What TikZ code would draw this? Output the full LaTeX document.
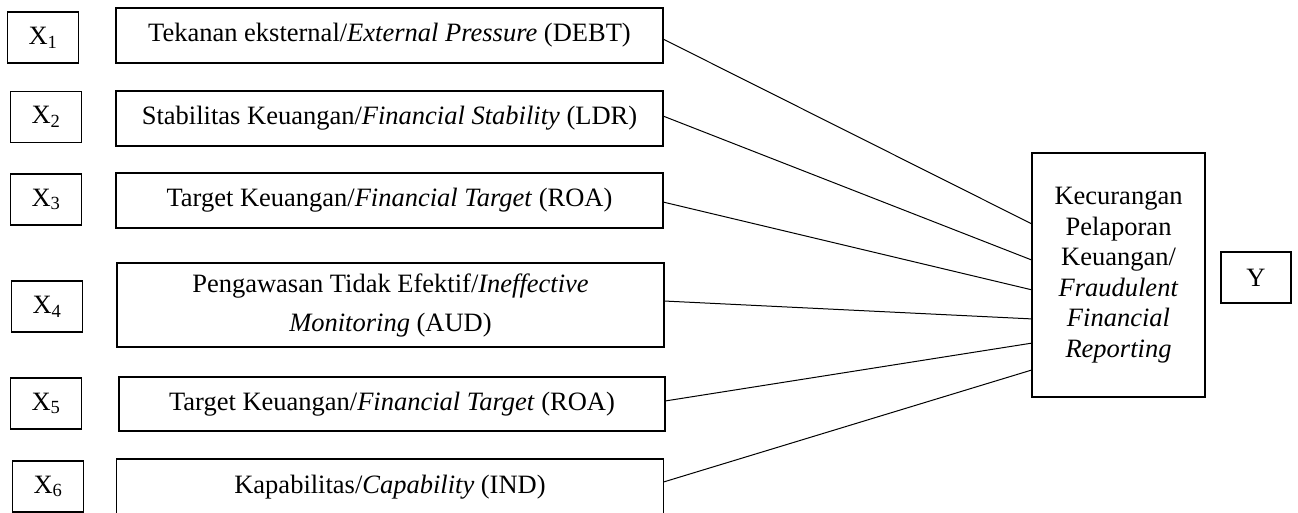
\documentclass[tikz,border=0pt]{standalone}
\usepackage{fontspec}
\setmainfont{Liberation Serif}
\usetikzlibrary{calc}
\begin{document}
\begin{tikzpicture}[
  x=1pt,y=1pt,
  font=\fontsize{26.5}{31}\selectfont,
  xbox/.style={draw,line width=1.8pt,inner sep=0pt,outer sep=0pt,minimum width=71pt,minimum height=51pt},
  bigbox/.style={draw,line width=1.8pt,inner sep=0pt,outer sep=0pt,minimum width=547pt,minimum height=55pt,align=center},
  conn/.style={line width=1pt}
]
\useasboundingbox (0,0) rectangle (1298,-512);
% left variable boxes
\node[xbox] (x1) at (43,-37.5) {X\textsubscript{1}};
\node[xbox] (x2) at (46,-117) {X\textsubscript{2}};
\node[xbox] (x3) at (46,-199.5) {X\textsubscript{3}};
\node[xbox] (x4) at (47,-306.5) {X\textsubscript{4}};
\node[xbox] (x5) at (46,-403.5) {X\textsubscript{5}};
\node[xbox] (x6) at (48,-486.5) {X\textsubscript{6}};
% main boxes
\node[bigbox] (b1) at (389.5,-35.5) {Tekanan eksternal/\textit{External Pressure} (DEBT)};
\node[bigbox] (b2) at (389.5,-118.5) {Stabilitas Keuangan/\textit{Financial Stability} (LDR)};
\node[bigbox] (b3) at (389.5,-200.5) {Target Keuangan/\textit{Financial Target} (ROA)};
\node[bigbox,minimum height=84pt,font=\fontsize{26.5}{39}\selectfont] (b4) at (390.5,-305) {Pengawasan Tidak Efektif/\textit{Ineffective}\\\textit{Monitoring} (AUD)};
\node[bigbox,minimum width=546pt,minimum height=54pt] (b5) at (392,-404) {Target Keuangan/\textit{Financial Target} (ROA)};
\node[bigbox,minimum height=56pt] (b6) at (390,-487) {Kapabilitas/\textit{Capability} (IND)};
% right boxes
\node[draw,line width=1.8pt,inner sep=0pt,outer sep=0pt,minimum width=173pt,minimum height=244pt,align=center,font=\fontsize{26.5}{30.5}\selectfont] (fr) at (1118.5,-275)
  {Kecurangan\\Pelaporan\\Keuangan/\\\textit{Fraudulent}\\\textit{Financial}\\\textit{Reporting}};
\node[xbox,minimum width=70pt] (y) at (1256,-277.5) {Y};
% connectors
\draw[conn] ([yshift=-3.5pt]b1.east) -- ($(fr.north west)!0.291!(fr.south west)$);
\draw[conn] ([yshift=2.5pt]b2.east) -- ($(fr.north west)!0.439!(fr.south west)$);
\draw[conn] ([yshift=-1.5pt]b3.east) -- ($(fr.north west)!0.561!(fr.south west)$);
\draw[conn] ([yshift=4pt]b4.east) -- ($(fr.north west)!0.680!(fr.south west)$);
\draw[conn] ([yshift=3pt]b5.east) -- ($(fr.north west)!0.779!(fr.south west)$);
\draw[conn] ([yshift=5pt]b6.east) -- ($(fr.north west)!0.889!(fr.south west)$);
\end{tikzpicture}
\end{document}
